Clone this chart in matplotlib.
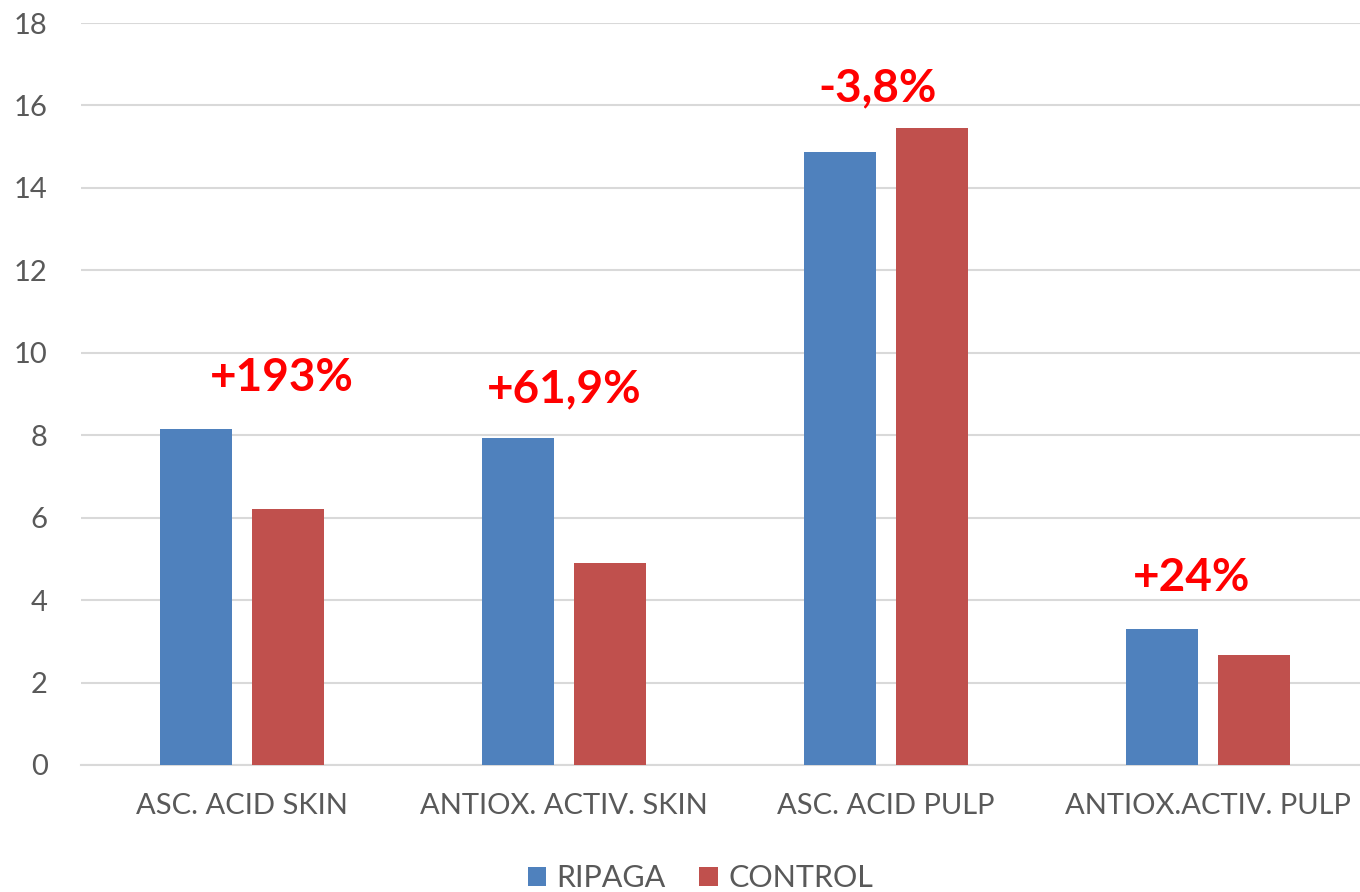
import matplotlib
matplotlib.use("Agg")
import matplotlib.pyplot as plt
import numpy as np

categories = ["ASC. ACID SKIN", "ANTIOX. ACTIV. SKIN", "ASC. ACID PULP", "ANTIOX.ACTIV. PULP"]
ripaga = [8.15, 7.93, 14.87, 3.30]
control = [6.21, 4.90, 15.45, 2.67]
change_labels = ["+193%", "+61,9%", "-3,8%", "+24%"]

# where the red change labels sit (x offset from category centre, y in data units)
label_dx = [0.125, 0.0, -0.025, -0.05]
label_y = [9.39, 9.10, 16.42, 4.54]

BLUE = "#4F81BD"
RED = "#C0504D"
TEXT = "#595959"
GRID = "#D9D9D9"

plt.rcParams["font.family"] = ["Lato", "DejaVu Sans"]

fig = plt.figure(figsize=(13.6, 8.92), dpi=100)
ax = fig.add_axes([0.0596, 0.1424, 0.947, 0.8318])

x = np.arange(len(categories))
width = 0.224
gap = 0.06
ax.bar(x - (width + gap) / 2, ripaga, width, color=BLUE, label="RIPAGA", zorder=3)
ax.bar(x + (width + gap) / 2, control, width, color=RED, label="CONTROL", zorder=3)

for i, txt in enumerate(change_labels):
    ax.text(x[i] + label_dx[i], label_y[i], txt, color="#FF0000", fontsize=33,
            fontweight="bold", ha="center", va="center", zorder=4)

ax.set_xlim(-0.5, 3.5)
ax.set_ylim(0, 18)
ax.set_yticks(np.arange(0, 19, 2))
ax.set_xticks(x)
ax.set_xticklabels(categories)
ax.yaxis.grid(True, color=GRID, linewidth=1.5, zorder=0)
ax.set_axisbelow(True)
for s in ["top", "right", "left"]:
    ax.spines[s].set_visible(False)
ax.spines["bottom"].set_color(GRID)
ax.spines["bottom"].set_linewidth(1.5)
ax.tick_params(axis="both", length=0, labelsize=21, colors=TEXT)
ax.tick_params(axis="x", pad=20)
ax.tick_params(axis="y", pad=24)

leg = fig.legend(loc="center", bbox_to_anchor=(0.515, 0.0157), ncol=2, frameon=False,
                 fontsize=22, handlelength=0.6, handleheight=0.6, columnspacing=1.1,
                 handletextpad=0.35)
for t in leg.get_texts():
    t.set_color(TEXT)

fig.savefig("out.png", dpi=100)
